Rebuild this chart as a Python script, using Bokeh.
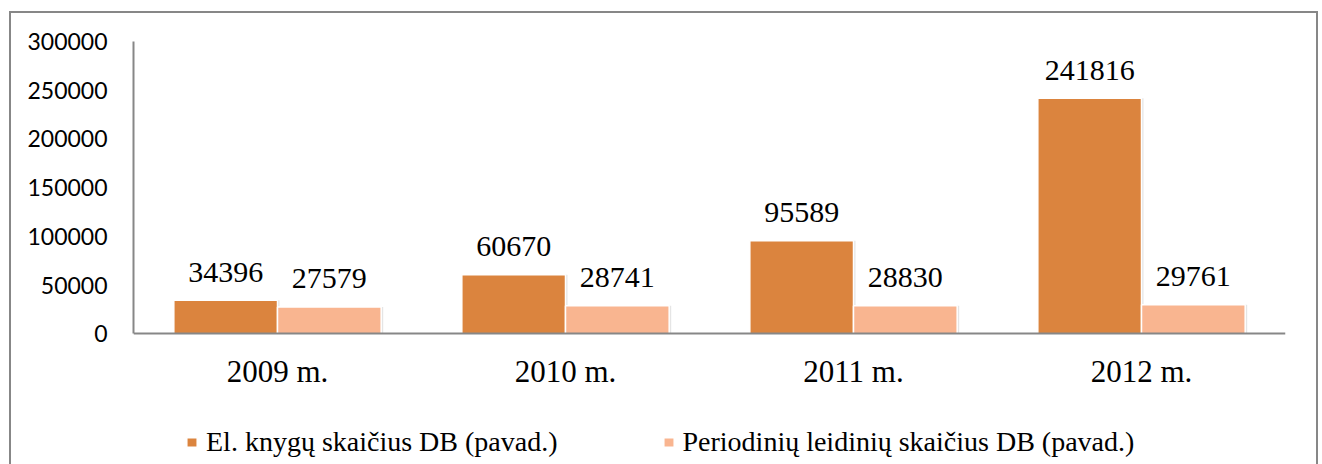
from bokeh.plotting import figure
from bokeh.models import ColumnDataSource, FactorRange, Range1d, Legend, LegendItem, FixedTicker, NumeralTickFormatter
from bokeh.transform import dodge
from bokeh.core.properties import value
from bokeh.embed import file_html
from bokeh.resources import INLINE

years = ["2009 m.", "2010 m.", "2011 m.", "2012 m."]
ebooks = [34396, 60670, 95589, 241816]
periodicals = [27579, 28741, 28830, 29761]
series_names = ["El. knygų skaičius DB (pavad.)", "Periodinių leidinių skaičius DB (pavad.)"]
y_ticks = [0, 50000, 100000, 150000, 200000, 250000, 300000]

c_dark = "#DB843E"
c_light = "#F9B590"
gray = "#878787"

# layout: value axis spans 291 px for 0..300000; 132 px below zero hold x labels and legend
Y_MAX = 300000
AXIS_PX = 291
BELOW_PX = 132
y_min = -BELOW_PX / AXIS_PX * Y_MAX

src = ColumnDataSource(dict(
    year=years,
    eb=ebooks,
    pe=periodicals,
    eb_txt=[str(v) for v in ebooks],
    pe_txt=[str(v) for v in periodicals],
))

p = figure(
    x_range=FactorRange(factors=years, range_padding=0),
    y_range=Range1d(y_min, Y_MAX),
    width=1309, height=453,
    output_backend="svg", toolbar_location=None,
    min_border_left=122, min_border_right=35, min_border_top=28, min_border_bottom=0,
)
p.styles = {
    "margin-left": "9px",
    "margin-top": "11px",
    "border-left": f"2px solid {gray}",
    "border-top": f"2px solid {gray}",
    "border-right": f"2px solid {gray}",
}
p.outline_line_color = None
p.xgrid.visible = False
p.ygrid.visible = False

# soft shadow behind the bars
for col, off in (("eb", -0.18), ("pe", 0.18)):
    p.vbar(x=dodge("year", off + 0.004, range=p.x_range), top=col, bottom=0, width=0.366,
           source=src, fill_color="black", fill_alpha=0.10, line_color=None)

r1 = p.vbar(x=dodge("year", -0.18, range=p.x_range), top="eb", bottom=0, width=0.36,
            source=src, fill_color=c_dark, line_color="white", line_width=1.5)
r2 = p.vbar(x=dodge("year", 0.18, range=p.x_range), top="pe", bottom=0, width=0.36,
            source=src, fill_color=c_light, line_color="white", line_width=1.5)

for col, txt, off in (("eb", "eb_txt", -0.18), ("pe", "pe_txt", 0.18)):
    p.text(x=dodge("year", off, range=p.x_range), y=col, text=txt, source=src,
           text_align="center", text_baseline="alphabetic", y_offset=-28,
           text_font=value("Liberation Serif"), text_font_size="30px", text_color="black")

for ax in (p.xaxis[0], p.yaxis[0]):
    ax.axis_line_color = gray
    ax.axis_line_width = 2
    ax.major_tick_out = 0
    ax.major_tick_in = 0
    ax.minor_tick_out = 0
    ax.minor_tick_in = 0
    ax.major_label_text_color = "black"

p.yaxis.ticker = FixedTicker(ticks=y_ticks)
p.yaxis.bounds = (0, Y_MAX)
p.yaxis.formatter = NumeralTickFormatter(format="0")
p.yaxis.major_label_text_font = "Lato"
p.yaxis.major_label_text_font_size = "23px"
p.yaxis.major_label_standoff = 26

p.xaxis.fixed_location = 0
p.xaxis.major_label_text_font = "Liberation Serif"
p.xaxis.major_label_text_font_size = "31px"
p.xaxis.major_label_standoff = 20

legend = Legend(
    items=[LegendItem(label=series_names[0], renderers=[r1]),
           LegendItem(label=series_names[1], renderers=[r2])],
    orientation="horizontal", location=(52, 8),
    glyph_width=13, glyph_height=12, label_standoff=8, spacing=104,
    padding=0, margin=0, border_line_color=None, background_fill_alpha=0,
    label_text_font="Liberation Serif", label_text_font_size="28px", label_text_color="black",
)
p.add_layout(legend)

open("out.html", "w").write(file_html(p, INLINE))
